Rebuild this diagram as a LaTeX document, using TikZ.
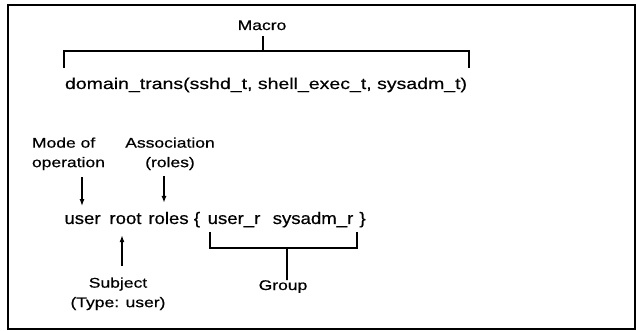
\documentclass[tikz,border=0pt]{standalone}
\usepackage{fontspec}
\setmainfont[FakeStretch=1.25,FakeBold=0.5]{Liberation Sans}
\newfontfamily\wordfont[FakeStretch=1.12,FakeBold=0.5]{Liberation Sans}
\usetikzlibrary{arrows.meta,calc}
\begin{document}
\begin{tikzpicture}[x=1pt,y=-1pt,
  lbl/.style={font=\fontsize{14}{19.5}\selectfont, inner sep=0pt, outer sep=0pt},
  line1/.style={font=\fontsize{15.6}{18}\selectfont, inner sep=0pt, outer sep=0pt, anchor=base west},
  word/.style={font=\wordfont\fontsize{16.6}{18}\selectfont, inner sep=0pt, outer sep=0pt, anchor=base},
  ln/.style={line width=1.5pt},
  arr/.style={line width=1.4pt, -{Latex[length=7pt,width=5pt]}}]
\useasboundingbox (0,0) rectangle (637,331);
\draw[line width=1.8pt] (8,5) rectangle (635,329);
% Macro part
\node[lbl, anchor=base] (macro) at (262,30) {Macro};
\node[line1] (dt) at (65,89) {domain\_trans(sshd\_t, shell\_exec\_t, sysadm\_t)};
\coordinate (bl) at (64,68);
\coordinate (br) at (469,68);
\coordinate (bm) at (263,51);
\draw[ln] (bl) -- (bl |- bm) -- (br |- bm) -- (br);
\draw[ln] (macro.south -| bm) ++(0,6) -- (bm);
% user line
\node[word] (w1) at (82.5,224) {user};
\node[word] (w2) at (125.5,224) {root};
\node[word] (w3) at (168.5,224) {roles};
\node[word] (w4) at (197,224) {\{};
\node[word] (w5) at (234,224) {user\_r};
\node[word] (w6) at (313,224) {sysadm\_r};
\node[word] (w7) at (362.5,224) {\}};
% labels
\node[lbl, anchor=north west, align=left] (mode) at (32,137.5) {Mode of\\operation};
\node[lbl, anchor=north, align=center] (assoc) at (170,137.5) {Association\\(roles)};
\node[lbl, anchor=north, align=center] (subj) at (118,277.5) {Subject\\(Type: user)};
\node[lbl, anchor=base] (group) at (283,290) {Group};
% arrows
\draw[arr, shorten <=7pt, shorten >=9pt] (mode.south -| 82,0) -- (w1.north -| 82,0);
\draw[arr, shorten <=6pt, shorten >=9pt] (assoc.south -| 164,0) -- (w3.north -| 164,0);
\draw[arr, shorten <=12pt, shorten >=11pt] (subj.north -| 122,0) -- (w2.south -| 122,0);
% group bracket
\coordinate (gl) at (210,232);
\coordinate (gr) at (357,232);
\coordinate (gm) at (287,248);
\draw[ln] (gl) -- (gl |- gm) -- (gr |- gm) -- (gr);
\draw[ln] (gm) -- (gm |- group.north) -- ++(0,-7);
\end{tikzpicture}
\end{document}
